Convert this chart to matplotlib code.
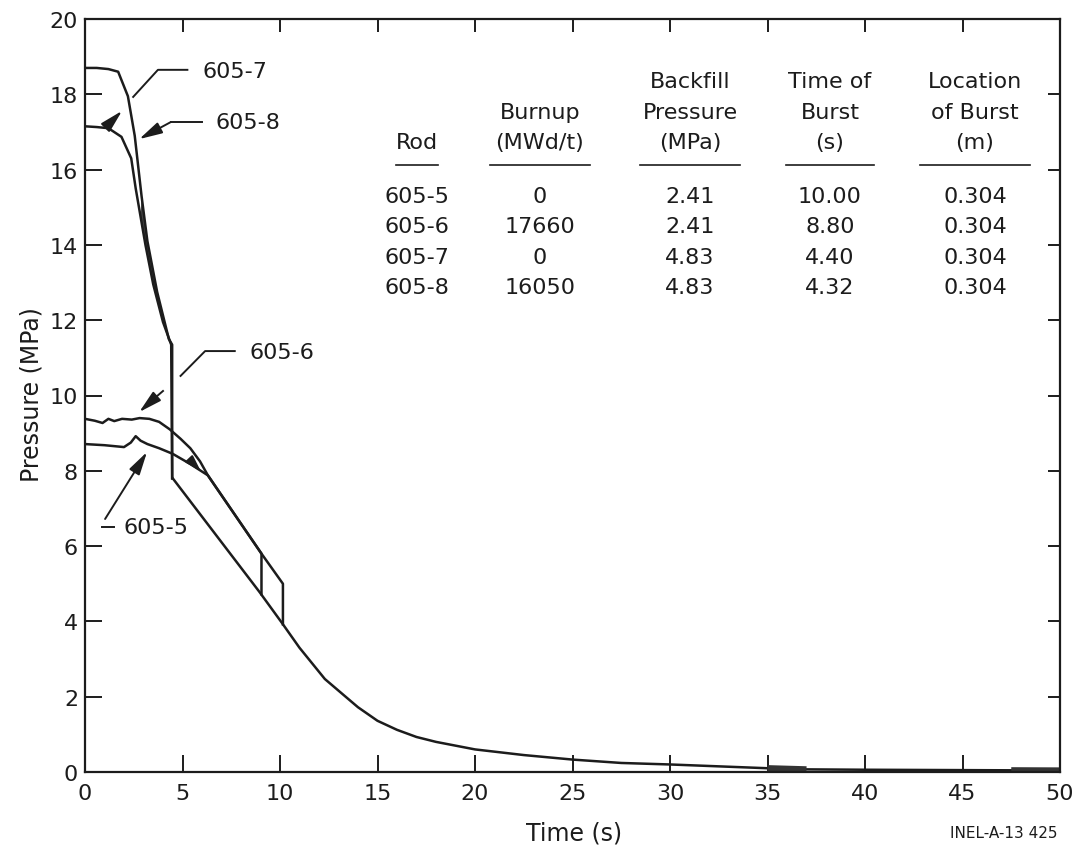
import numpy as np
import matplotlib
matplotlib.use("Agg")
import matplotlib.pyplot as plt

# pressure histories (time s, pressure MPa)
rod7_t = [0, 0.6, 1.2, 1.7, 2.2, 2.55, 2.9, 3.2, 3.7, 4.3, 4.47, 4.47]
rod7_p = [18.7, 18.7, 18.67, 18.6, 17.95, 16.9, 15.3, 14.1, 12.75, 11.5, 11.35, 7.8]

rod8_t = [0, 0.6, 1.2, 1.87, 2.37, 2.6, 2.85, 3.1, 3.5, 4.0, 4.42, 4.47]
rod8_p = [17.15, 17.13, 17.1, 16.87, 16.3, 15.5, 14.75, 14.0, 12.95, 11.95, 11.35, 7.8]

rod6_t = [0, 0.5, 0.9, 1.2, 1.5, 1.9, 2.4, 2.8, 3.3, 3.8, 4.35, 4.9, 5.4, 5.9, 6.3, 9.05, 9.05]
rod6_p = [9.38, 9.33, 9.27, 9.38, 9.32, 9.38, 9.36, 9.4, 9.38, 9.3, 9.1, 8.85, 8.6, 8.25, 7.88, 5.8, 4.72]

rod5_t = [0, 1.0, 2.0, 2.35, 2.6, 2.85, 3.2, 3.8, 4.5, 5.4, 6.3, 9.05, 10.15, 10.15]
rod5_p = [8.71, 8.68, 8.63, 8.75, 8.92, 8.8, 8.71, 8.6, 8.45, 8.18, 7.88, 5.8, 5.0, 3.92]

# common decay after burst
decay_t = [4.5, 8.95, 10.1, 11.0, 12.3, 13.5, 14, 15, 16, 17, 18, 20, 22.5, 25,
           27.5, 30, 32.5, 35, 37, 40, 45, 47.5, 50]
decay_p = [7.8, 4.78, 3.96, 3.3, 2.47, 1.94, 1.72, 1.36, 1.12, 0.93, 0.8, 0.6, 0.45, 0.33,
           0.24, 0.2, 0.15, 0.1, 0.07, 0.06, 0.05, 0.045, 0.04]

# table
rods = ["605-5", "605-6", "605-7", "605-8"]
burnup = ["0", "17660", "0", "16050"]
backfill = ["2.41", "2.41", "4.83", "4.83"]
burst_time = ["10.00", "8.80", "4.40", "4.32"]
burst_loc = ["0.304", "0.304", "0.304", "0.304"]
headers = [["", "", "Rod"], ["", "Burnup", "(MWd/t)"], ["Backfill", "Pressure", "(MPa)"],
           ["Time of", "Burst", "(s)"], ["Location", "of Burst", "(m)"]]

ink = "#1c1c1c"
plt.rcParams["font.family"] = ["DejaVu Sans"]

fig = plt.figure(figsize=(10.87, 8.53), dpi=100)
ax = fig.add_axes([85 / 1087, 1 - 773 / 853, 975 / 1087, 753 / 853])

lw = 1.8
for t, p in [(rod7_t, rod7_p), (rod8_t, rod8_p), (rod6_t, rod6_p), (rod5_t, rod5_p), (decay_t, decay_p)]:
    ax.plot(t, p, color=ink, lw=lw, solid_joinstyle="round")

# dark band where 605-7 and 605-8 run together
t7 = np.array(rod7_t[:-1]); p7 = np.array(rod7_p[:-1])
t8 = np.array(rod8_t[:-1]); p8 = np.array(rod8_p[:-1])
m7 = (t7 >= 2.9) & (t7 <= 4.3)
m8 = (t8 >= 2.85) & (t8 <= 4.42)
ax.fill(np.concatenate([t7[m7], t8[m8][::-1]]), np.concatenate([p7[m7], p8[m8][::-1]]),
        color="#444444", lw=0)

# heavier trace along the axis near the end
dt = np.array(decay_t); dp = np.array(decay_p)
for lo, hi in [(35, 37), (47.5, 50)]:
    m = (dt >= lo) & (dt <= hi)
    ax.plot(dt[m], dp[m], color="#333333", lw=4.5, solid_capstyle="butt")

# curve labels and leaders
arw = dict(arrowstyle="-|>,head_length=0.7,head_width=0.18", color=ink, lw=1.4,
           shrinkA=0, shrinkB=0, mutation_scale=20)
lab = dict(fontsize=16, color=ink, va="center", ha="left")

ax.plot([5.25, 3.74, 2.47], [18.65, 18.65, 17.93], color=ink, lw=1.4)
ax.text(6.0, 18.62, rods[2], **lab)

ax.plot([6.0, 4.39], [17.26, 17.26], color=ink, lw=1.4)
ax.annotate("", xy=(2.78, 16.81), xytext=(4.39, 17.26), arrowprops=arw)
ax.text(6.67, 17.26, rods[3], **lab)
ax.annotate("", xy=(1.9, 17.56), xytext=(1.13, 17.16), arrowprops=arw)

ax.plot([7.68, 6.16, 4.9], [11.18, 11.18, 10.52], color=ink, lw=1.4)
ax.plot([4.0, 3.55], [10.12, 9.92], color=ink, lw=1.4)
ax.annotate("", xy=(2.78, 9.56), xytext=(3.45, 9.87), arrowprops=arw)
ax.text(8.43, 11.16, rods[1], **lab)

ax.plot([0.87, 1.5], [6.51, 6.51], color=ink, lw=1.4)
ax.annotate("", xy=(3.18, 8.5), xytext=(1.03, 6.72), arrowprops=arw)
ax.text(1.95, 6.51, rods[0], **lab)
ax.annotate("", xy=(5.95, 7.98), xytext=(5.55, 8.2),
            arrowprops=dict(arw, arrowstyle="-|>,head_length=0.5,head_width=0.15"))

# table
col_x = [17.03, 23.33, 31.03, 38.2, 45.64]
head_y = [18.35, 17.53, 16.73]
rule_y = 16.12
rule_w = [2.15, 5.13, 5.13, 4.5, 5.64]
row_y = [15.3, 14.5, 13.68, 12.88]
columns = [rods, burnup, backfill, burst_time, burst_loc]
for x, head, w, col in zip(col_x, headers, rule_w, columns):
    for y, s in zip(head_y, head):
        ax.text(x, y, s, fontsize=16, color=ink, ha="center", va="center")
    ax.plot([x - w / 2, x + w / 2], [rule_y, rule_y], color=ink, lw=1.2)
    for y, s in zip(row_y, col):
        ax.text(x, y, s, fontsize=16, color=ink, ha="center", va="center")

ax.set_xlim(0, 50)
ax.set_ylim(0, 20)
ax.set_xticks(range(0, 51, 5))
ax.set_yticks(range(0, 21, 2))
ax.tick_params(direction="in", length=12, width=1.4, top=True, right=True,
               labelsize=16, colors=ink)
ax.tick_params(axis="x", pad=8)
ax.tick_params(axis="y", pad=5)
for tk in ax.xaxis.get_major_ticks() + ax.yaxis.get_major_ticks():
    tk.tick2line.set_markersize(9)
for sp in ax.spines.values():
    sp.set_linewidth(1.6)
    sp.set_color(ink)

fig.text(32 / 1087, 1 - 395 / 853, "Pressure (MPa)", rotation=90, fontsize=17,
         color=ink, ha="center", va="center")
fig.text(574 / 1087, 1 - 834 / 853, "Time (s)", fontsize=17, color=ink,
         ha="center", va="center")
fig.text(1058 / 1087, 1 - 834 / 853, "INEL-A-13 425", fontsize=11, color=ink,
         ha="right", va="center")

fig.savefig("out.png", dpi=100)
